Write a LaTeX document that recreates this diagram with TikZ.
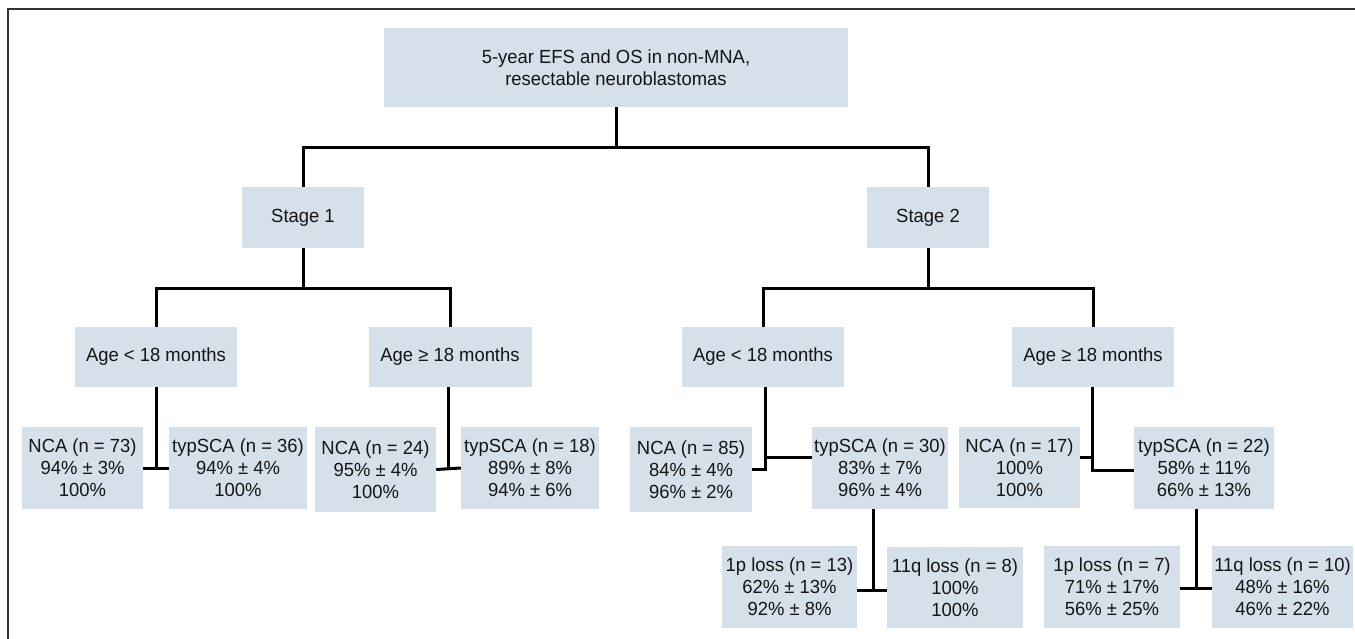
\documentclass[tikz,border=0pt]{standalone}
\usepackage{fontspec}
\setmainfont{Liberation Sans}[FakeStretch=0.97]
\definecolor{boxfill}{HTML}{D6E0EB}
\definecolor{framecol}{HTML}{333333}
\definecolor{textcol}{HTML}{151515}
\begin{document}
\begin{tikzpicture}[x=1pt,y=-1pt,
  box/.style={fill=boxfill, inner sep=0pt, align=center, text=textcol, font=\fontsize{19}{22}\selectfont},
  link/.style={draw=black, line width=3pt},
  framestyle/.style={draw=framecol, line width=2pt}]
\useasboundingbox (0,0) rectangle (1355,639);
\fill[white] (0,0) rectangle (1355,639);
% frame
\coordinate (ftr) at (1355,9);
\coordinate (ftl) at (8,9);
\coordinate (fbl) at (8,639);
\draw[framestyle] (ftr) -- (ftl) -- (fbl);
% boxes: centre, width, height
\node[box, minimum width=464pt, minimum height=79pt] (root) at (616,67.5) {5-year EFS and OS in non-MNA,\\resectable neuroblastomas};
\node[box, minimum width=122pt, minimum height=61pt] (s1) at (303,217.5) {Stage 1};
\node[box, minimum width=122pt, minimum height=61pt] (s2) at (928,217.5) {Stage 2};
\node[box, minimum width=162pt, minimum height=60pt] (a1) at (156,357) {Age < 18 months};
\node[box, minimum width=163pt, minimum height=60pt] (a2) at (450,357) {Age ≥ 18 months};
\node[box, minimum width=162pt, minimum height=60pt] (a3) at (763,357) {Age < 18 months};
\node[box, minimum width=162pt, minimum height=60pt] (a4) at (1093,357) {Age ≥ 18 months};
\node[box, minimum width=121pt, minimum height=82pt] (n1) at (82.5,468) {NCA (n = 73)\\94\% ± 3\%\\100\%};
\node[box, minimum width=138pt, minimum height=82pt] (t1) at (238,468) {typSCA (n = 36)\\94\% ± 4\%\\100\%};
\node[box, minimum width=121pt, minimum height=85pt] (n2) at (375.5,469.5) {NCA (n = 24)\\95\% ± 4\%\\100\%};
\node[box, minimum width=138pt, minimum height=82pt] (t2) at (530,468) {typSCA (n = 18)\\89\% ± 8\%\\94\% ± 6\%};
\node[box, minimum width=122pt, minimum height=85pt] (n3) at (691,469.5) {NCA (n = 85)\\84\% ± 4\%\\96\% ± 2\%};
\node[box, minimum width=136pt, minimum height=82pt] (t3) at (880,468) {typSCA (n = 30)\\83\% ± 7\%\\96\% ± 4\%};
\node[box, minimum width=121pt, minimum height=81pt] (n4) at (1019.5,467.5) {NCA (n = 17)\\100\%\\100\%};
\node[box, minimum width=140pt, minimum height=82pt] (t4) at (1204,468) {typSCA (n = 22)\\58\% ± 11\%\\66\% ± 13\%};
\node[box, minimum width=135pt, minimum height=82pt] (p1) at (789.5,587) {1p loss (n = 13)\\62\% ± 13\%\\92\% ± 8\%};
\node[box, minimum width=136pt, minimum height=81pt] (q1) at (955,587.5) {11q loss (n = 8)\\100\%\\100\%};
\node[box, minimum width=136pt, minimum height=82pt] (p2) at (1112,587) {1p loss (n = 7)\\71\% ± 17\%\\56\% ± 25\%};
\node[box, minimum width=141pt, minimum height=82pt] (q2) at (1282.5,587) {11q loss (n = 10)\\48\% ± 16\%\\46\% ± 22\%};
% connectors level 1
\draw[link] (root.south) -- (root.south |- 0,148);
\draw[link] (s1.north) -- (s1.north |- 0,148) -- (s2.north |- 0,148) -- (s2.north);
% level 2
\draw[link] (s1.south) -- (s1.south |- 0,288);
\draw[link] (a1.north) -- (a1.north |- 0,288) -- (a2.north |- 0,288) -- (a2.north);
\draw[link] (s2.south) -- (s2.south |- 0,288);
\draw[link] (a3.north) -- (a3.north |- 0,288) -- (a4.north |- 0,288) -- (a4.north);
% level 3
\draw[link] (a1.south) -- (a1.south |- n1.east);
\draw[link] (n1.east) -- (t1.west);
\draw[link] ([xshift=-1.5pt]a2.south) -- ([xshift=-1.5pt]a2.south |- n2.east);
\draw[link] (n2.east) -- (t2.west);
\draw[link] ([xshift=2pt]a3.south) -- ([xshift=2pt]a3.south |- n3.east) -- (n3.east);
\draw[link] ([xshift=2pt]a3.south |- 0,457) -- ([yshift=11pt]t3.west);
\draw[link] ([xshift=-1pt]a4.south) -- ([xshift=-1pt]a4.south |- 0,470) -- (t4.west |- 0,470);
\draw[link] ([yshift=10.5pt]n4.east) -- ([xshift=-1pt]a4.south |- 0,457);
% level 4
\draw[link] ([xshift=-7pt]t3.south) -- ([xshift=-7pt]t3.south |- 0,590);
\draw[link] (p1.east |- 0,590) -- (q1.west |- 0,590);
\draw[link] ([xshift=-8pt]t4.south) -- ([xshift=-8pt]t4.south |- 0,588);
\draw[link] (p2.east |- 0,588) -- (q2.west |- 0,588);
\end{tikzpicture}
\end{document}
